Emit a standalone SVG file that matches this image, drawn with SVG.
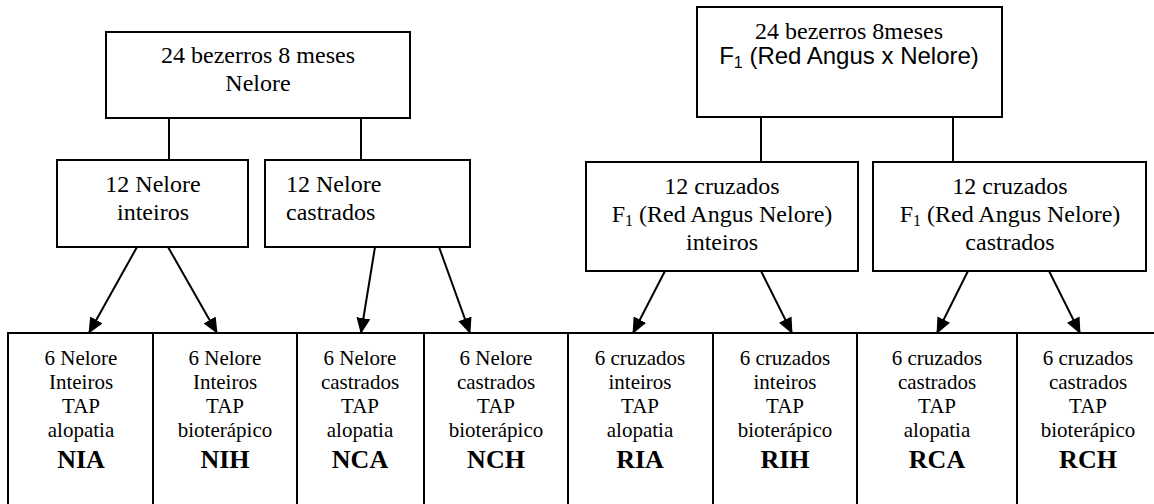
<svg xmlns="http://www.w3.org/2000/svg" width="1154" height="504" viewBox="0 0 1154 504">
<style>
.box{fill:#fff;stroke:#000;stroke-width:2}
.t{font-family:"Liberation Serif","Times New Roman",serif;font-size:24px;fill:#000}
.a{font-family:"Liberation Sans",Arial,sans-serif;font-size:24px;fill:#000}
.s{font-family:"Liberation Serif","Times New Roman",serif;font-size:21px;fill:#000;text-anchor:middle}
.b{font-family:"Liberation Serif","Times New Roman",serif;font-size:26px;font-weight:bold;fill:#000;text-anchor:middle}
.c{stroke:#000;stroke-width:2;fill:none}
.ar{stroke:#000;stroke-width:2;fill:none;marker-end:url(#ah)}
</style>
<defs>
<marker id="ah" markerWidth="8" markerHeight="7" refX="7.5" refY="3.5" orient="auto" markerUnits="strokeWidth">
<path d="M0,0 L8,3.5 L0,7 Z" fill="#000"/>
</marker>
</defs>
<rect width="1154" height="504" fill="#fff"/>

<g id="connectors">
<line class="c" x1="169" y1="118" x2="169" y2="160"/>
<line class="c" x1="361" y1="118" x2="361" y2="160"/>
<line class="c" x1="761" y1="117" x2="761" y2="162"/>
<line class="c" x1="953" y1="117" x2="953" y2="162"/>
<line class="ar" x1="137" y1="247" x2="89" y2="333"/>
<line class="ar" x1="168" y1="247" x2="217" y2="333"/>
<line class="ar" x1="375" y1="247" x2="361" y2="333"/>
<line class="ar" x1="439" y1="247" x2="470" y2="333"/>
<line class="ar" x1="665" y1="271" x2="633" y2="333"/>
<line class="ar" x1="761" y1="271" x2="792" y2="333"/>
<line class="ar" x1="968" y1="271" x2="937" y2="333"/>
<line class="ar" x1="1049" y1="271" x2="1080" y2="333"/>
</g>

<g id="top-nelore">
<rect class="box" x="106" y="32" width="304" height="86"/>
<text class="t" x="258" y="63" text-anchor="middle">24 bezerros 8 meses</text>
<text class="t" x="258" y="91" text-anchor="middle">Nelore</text>
</g>

<g id="top-f1">
<rect class="box" x="697" y="7" width="305" height="110"/>
<text class="t" x="849" y="39" text-anchor="middle">24 bezerros 8meses</text>
<text class="a" x="849" y="64" text-anchor="middle">F<tspan font-size="16" dy="4">1</tspan><tspan dy="-4"> (Red Angus x Nelore)</tspan></text>
</g>

<g id="nelore-inteiros">
<rect class="box" x="57" y="160" width="191" height="87"/>
<text class="t" x="153" y="192" text-anchor="middle">12 Nelore</text>
<text class="t" x="153" y="220" text-anchor="middle">inteiros</text>
</g>

<g id="nelore-castrados">
<rect class="box" x="265" y="160" width="205" height="87"/>
<text class="t" x="286" y="192">12 Nelore</text>
<text class="t" x="286" y="220">castrados</text>
</g>

<g id="cruzados-inteiros">
<rect class="box" x="586" y="162" width="272" height="109"/>
<text class="t" x="722" y="194" text-anchor="middle">12 cruzados</text>
<text class="t" x="722" y="222" text-anchor="middle">F<tspan font-size="16" dy="4">1</tspan><tspan dy="-4"> (Red Angus Nelore)</tspan></text>
<text class="t" x="722" y="250" text-anchor="middle">inteiros</text>
</g>

<g id="cruzados-castrados">
<rect class="box" x="873" y="162" width="273" height="109"/>
<text class="t" x="1010" y="194" text-anchor="middle">12 cruzados</text>
<text class="t" x="1010" y="222" text-anchor="middle">F<tspan font-size="16" dy="4">1</tspan><tspan dy="-4"> (Red Angus Nelore)</tspan></text>
<text class="t" x="1010" y="250" text-anchor="middle">castrados</text>
</g>

<g id="NIA">
<rect class="box" x="8" y="333" width="145" height="180"/>
<text class="s" x="81" y="365">6 Nelore</text>
<text class="s" x="81" y="389">Inteiros</text>
<text class="s" x="81" y="413">TAP</text>
<text class="s" x="81" y="437">alopatia</text>
<text class="b" x="81" y="468">NIA</text>
</g>

<g id="NIH">
<rect class="box" x="153" y="333" width="144" height="180"/>
<text class="s" x="225" y="365">6 Nelore</text>
<text class="s" x="225" y="389">Inteiros</text>
<text class="s" x="225" y="413">TAP</text>
<text class="s" x="225" y="437">bioterápico</text>
<text class="b" x="225" y="468">NIH</text>
</g>

<g id="NCA">
<rect class="box" x="297" y="333" width="127" height="180"/>
<text class="s" x="360" y="365">6 Nelore</text>
<text class="s" x="360" y="389">castrados</text>
<text class="s" x="360" y="413">TAP</text>
<text class="s" x="360" y="437">alopatia</text>
<text class="b" x="360" y="468">NCA</text>
</g>

<g id="NCH">
<rect class="box" x="424" y="333" width="144" height="180"/>
<text class="s" x="496" y="365">6 Nelore</text>
<text class="s" x="496" y="389">castrados</text>
<text class="s" x="496" y="413">TAP</text>
<text class="s" x="496" y="437">bioterápico</text>
<text class="b" x="496" y="468">NCH</text>
</g>

<g id="RIA">
<rect class="box" x="568" y="333" width="145" height="180"/>
<text class="s" x="640" y="365">6 cruzados</text>
<text class="s" x="640" y="389">inteiros</text>
<text class="s" x="640" y="413">TAP</text>
<text class="s" x="640" y="437">alopatia</text>
<text class="b" x="640" y="468">RIA</text>
</g>

<g id="RIH">
<rect class="box" x="713" y="333" width="144" height="180"/>
<text class="s" x="785" y="365">6 cruzados</text>
<text class="s" x="785" y="389">inteiros</text>
<text class="s" x="785" y="413">TAP</text>
<text class="s" x="785" y="437">bioterápico</text>
<text class="b" x="785" y="468">RIH</text>
</g>

<g id="RCA">
<rect class="box" x="857" y="333" width="160" height="180"/>
<text class="s" x="937" y="365">6 cruzados</text>
<text class="s" x="937" y="389">castrados</text>
<text class="s" x="937" y="413">TAP</text>
<text class="s" x="937" y="437">alopatia</text>
<text class="b" x="937" y="468">RCA</text>
</g>

<g id="RCH">
<rect class="box" x="1017" y="333" width="145" height="180"/>
<text class="s" x="1088" y="365">6 cruzados</text>
<text class="s" x="1088" y="389">castrados</text>
<text class="s" x="1088" y="413">TAP</text>
<text class="s" x="1088" y="437">bioterápico</text>
<text class="b" x="1088" y="468">RCH</text>
</g>
</svg>
